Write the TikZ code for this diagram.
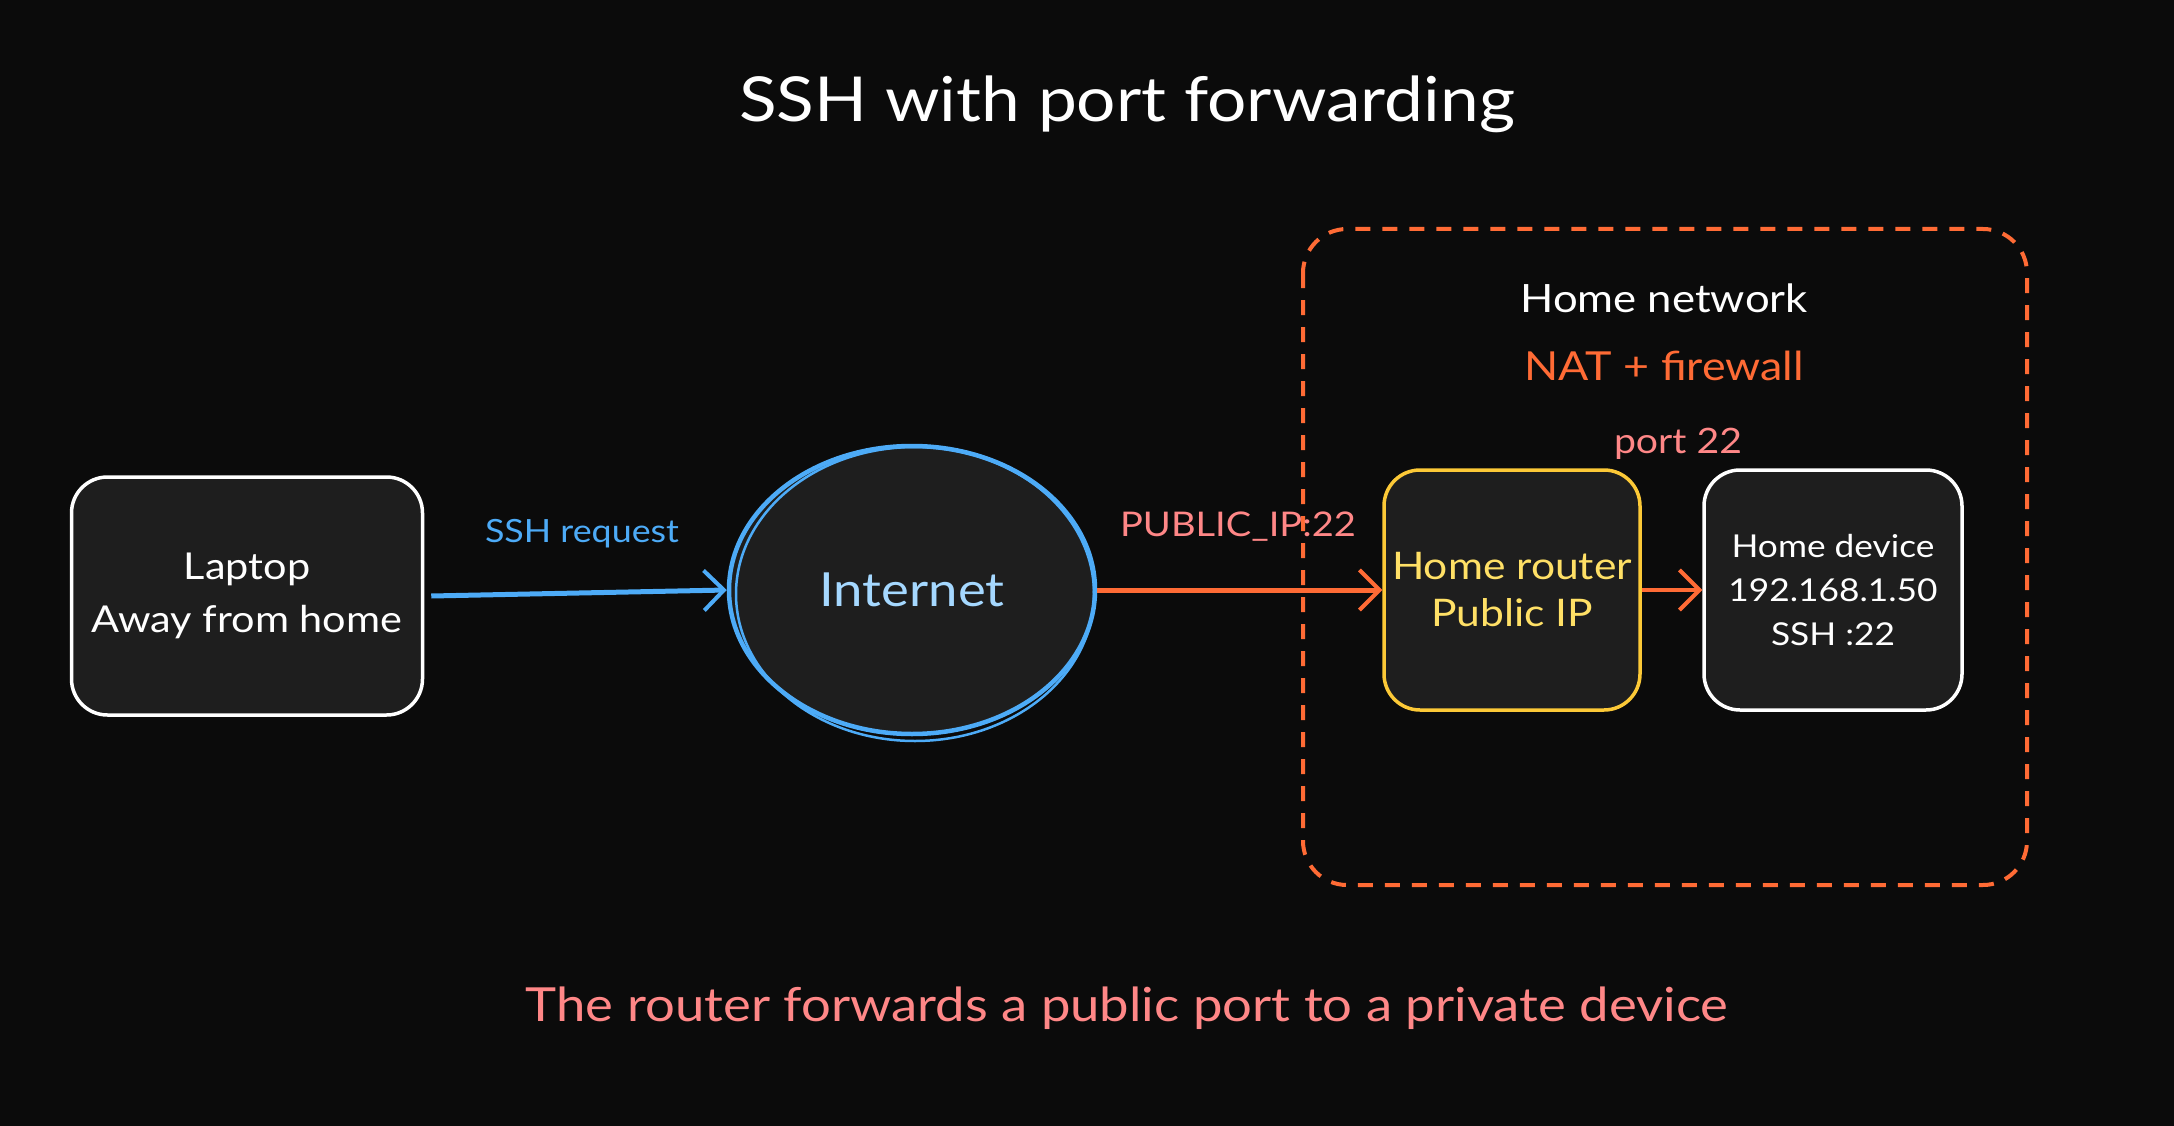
\documentclass[tikz,border=0pt]{standalone}
\usepackage{fontspec}
\setmainfont[FakeStretch=1.12]{Lato}
\usetikzlibrary{arrows.meta,shapes.geometric}
\definecolor{bgc}{HTML}{0B0B0B}
\definecolor{boxfill}{HTML}{1E1E1E}
\definecolor{skyblue}{HTML}{4DABF7}
\definecolor{lightblue}{HTML}{A5D8FF}
\definecolor{orng}{HTML}{FF6B35}
\definecolor{yell}{HTML}{FCC937}
\definecolor{yelltext}{HTML}{FFE066}
\definecolor{salmon}{HTML}{FF8787}
\tikzset{
  card/.style={draw=white, fill=boxfill, line width=3.5pt, rounded corners=36pt, align=center, text=white, inner sep=0pt},
  flow/.style={line width=5pt, -{Straight Barb[length=20pt,width=40pt,line width=4pt]}},
  lbl/.style={inner sep=0pt, align=center},
}
\begin{document}
\begin{tikzpicture}[x=1pt,y=-1pt]
\fill[bgc] (0,0) rectangle (2174,1126);
\useasboundingbox (0,0) rectangle (2174,1126);

\node[lbl, text=white, font=\fontsize{62}{66}\selectfont] (title) at (1127,104) {SSH with port forwarding};

% home network container
\draw[orng, line width=4pt, dash pattern=on 15pt off 12pt, rounded corners=44pt] (1303,229) rectangle (2027,885);
\node[lbl, text=white, font=\fontsize{39}{44}\selectfont] (homenet) at (1664,298) {Home network};
\node[lbl, text=orng, font=\fontsize{40}{44}\selectfont] (nat) at (1664,366) {NAT + firewall};
\node[lbl, text=salmon, font=\fontsize{35}{38}\selectfont] (port) at (1678,444) {port 22};

% nodes
\node[card, minimum width=351pt, minimum height=238pt, font=\fontsize{37}{53}\selectfont] (laptop) at (247,596) {Laptop\\Away from home};
\node[ellipse, draw=skyblue, fill=boxfill, line width=4.5pt, minimum width=366pt, minimum height=288pt, inner sep=0pt, text=lightblue, font=\fontsize{47}{50}\selectfont] (internet) at (912,590) {Internet};
\draw[skyblue, line width=2.5pt] ([xshift=3pt,yshift=-4pt]internet.center) ellipse [x radius=179pt, y radius=147pt];
\node[card, draw=yell, minimum width=256pt, minimum height=240pt, text=yelltext, font=\fontsize{38}{47}\selectfont] (router) at (1512,590) {Home router\\Public IP};
\node[card, minimum width=258pt, minimum height=240pt, font=\fontsize{31.5}{44}\selectfont] (device) at (1833,590) {Home device\\192.168.1.50\\SSH :22};

% connectors
\coordinate (lapout) at ([xshift=7pt]laptop.east);
\draw[flow, skyblue] (lapout) -- (internet.west);
\draw[flow, orng] (internet.east) -- (router.west);
\draw[flow, orng, line width=4pt] (router.east) -- (device.west);

\node[lbl, text=skyblue, font=\fontsize{32}{35}\selectfont] (sshreq) at (582,534) {SSH request};
\node[lbl, text=salmon, font=\fontsize{34}{38}\selectfont] (pubip) at (1238,527) {PUBLIC\_IP:22};

\node[lbl, text=salmon, font=\fontsize{47}{50}\selectfont] (caption) at (1127,1008) {The router forwards a public port to a private device};
\end{tikzpicture}
\end{document}
